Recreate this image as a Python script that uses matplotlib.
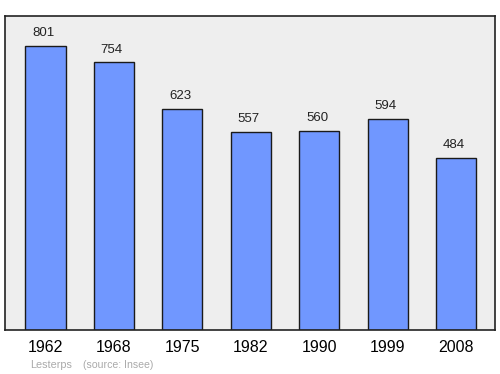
import matplotlib
matplotlib.use("Agg")
import matplotlib.pyplot as plt
import numpy as np

years = ["1962", "1968", "1975", "1982", "1990", "1999", "2008"]
population = [801, 754, 623, 557, 560, 594, 484]

plt.rcParams['font.family'] = ['Liberation Sans', 'DejaVu Sans']

fig = plt.figure(figsize=(5, 3.74), dpi=100)
ax = fig.add_axes([0.01, 0.1176, 0.98, 0.8396])
ax.set_facecolor('#eeeeee')

x = np.arange(len(years))
ax.bar(x, population, width=0.585, color='#7097ff', edgecolor='#1a1a1a', linewidth=1, zorder=2)
for xi, v in zip(x, population):
    ax.annotate(str(v), (xi, v), xytext=(-1.5, 5), textcoords='offset points',
                ha='center', va='bottom', fontsize=9.5, color='#222222')

ax.set_xlim(-0.592, 6.57)
ax.set_ylim(0, 885)
ax.set_yticks([])
ax.set_xticks(x)
ax.set_xticklabels(years, fontsize=11.5)
ax.tick_params(axis='x', length=0, pad=7)
for s in ax.spines.values():
    s.set_linewidth(1.2)
    s.set_color('#222222')

fig.text(30 / 500, 1 - 365 / 374, "Lesterps", fontsize=7.8, color='#aaaaaa', va='center')
fig.text(83 / 500, 1 - 365 / 374, "(source: Insee)", fontsize=7.6, color='#aaaaaa', va='center')

fig.savefig("out.png", dpi=100)
